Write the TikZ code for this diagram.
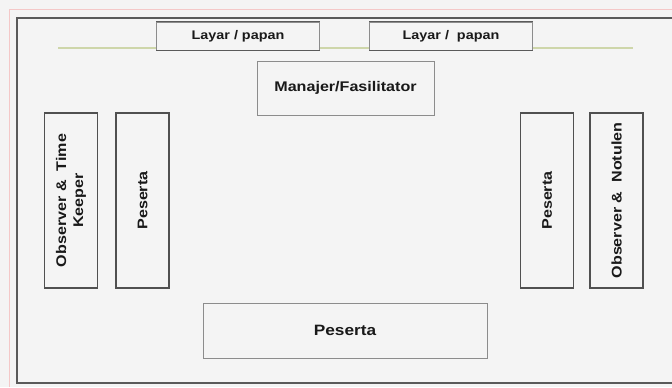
\documentclass[tikz,border=0pt]{standalone}
\usepackage{fontspec}
\setmainfont{Liberation Sans}[FakeStretch=1.15]
\usepackage{tikz}
\usetikzlibrary{positioning}
\definecolor{PaperGray}{RGB}{244,244,244}
\definecolor{EdgePink}{RGB}{244,200,200}
\definecolor{FrameGray}{RGB}{90,90,90}
\definecolor{BoxGray}{RGB}{140,140,140}
\definecolor{SideGray}{RGB}{80,80,80}
\definecolor{ScreenGreen}{RGB}{206,214,170}
\definecolor{InkBlack}{RGB}{25,25,25}

\begin{document}
\begin{tikzpicture}[x=1bp,y=-1bp,
    seat/.style={draw=BoxGray,line width=0.9bp,fill=PaperGray,inner sep=0pt,
      text=InkBlack,font=\fontsize{14bp}{17bp}\selectfont\bfseries,align=center},
    side/.style={seat,draw=SideGray,line width=1.4bp,rotate=90,
      minimum width=175bp,minimum height=53bp},
    screen/.style={seat,minimum width=163bp,minimum height=28bp,
      font=\fontsize{12.5bp}{15bp}\selectfont\bfseries}]
  % paper and outer frame
  \fill[PaperGray] (0,0) rectangle (672,387);
  \useasboundingbox (0,0) rectangle (672,387);
  \draw[EdgePink,line width=0.8bp] (9,387) -- (9,9) -- (672,9);
  \draw[FrameGray,line width=1.8bp] (672,18) -- (17,18) -- (17,383) -- (672,383);
  % screen line and screens
  \draw[ScreenGreen,line width=1.6bp] (58,48) -- (633,48);
  \node[screen] (layarA) at (238,36) {Layar / papan};
  \node[screen] (layarB) at (451,36) {Layar /\ \ papan};
  \draw[FrameGray,line width=1bp] (layarA.north west) -- (layarA.north east);
  \draw[FrameGray,line width=1bp] (layarA.south west) -- (layarA.south east);
  \draw[FrameGray,line width=1bp] (layarB.north west) -- (layarB.north east);
  \draw[FrameGray,line width=1bp] (layarB.south west) -- (layarB.south east);
  % seats
  \node[seat,minimum width=177bp,minimum height=54bp] (manajer) at (345.5,88)
    {Manajer/Fasilitator};
  \node[side] (obsTime) at (71,200.5) {Observer \&\ \ Time\\Keeper};
  \node[side] (pesertaL) at (142.5,200.5) {Peserta};
  \node[side] (pesertaR) at (547,200.5) {Peserta};
  \node[side] (obsNotulen) at (616.5,200.5) {Observer \&\ \ Notulen};
  \node[seat,minimum width=284bp,minimum height=55bp,
    font=\fontsize{15bp}{18bp}\selectfont\bfseries] (pesertaB) at (345,330.5) {Peserta};
\end{tikzpicture}
\end{document}
